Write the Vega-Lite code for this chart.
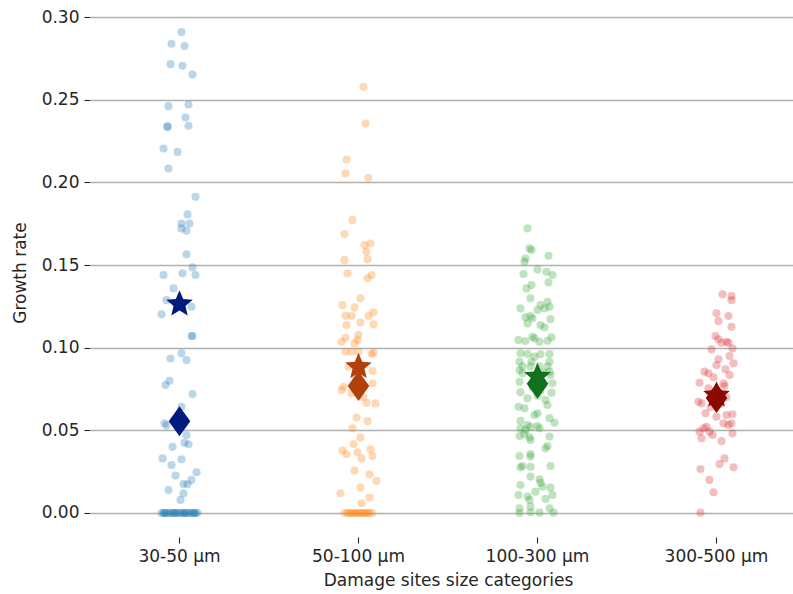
{
"$schema": "https://vega.github.io/schema/vega-lite/v6.json",
"width": 703, "height": 529,
"autosize": {"type": "none"},
"padding": {"left": 90, "top": 8, "right": 0, "bottom": 57},
"background": "white",
"config": {
  "view": {"stroke": null},
  "axis": {"labelFont": "DejaVu Sans", "titleFont": "DejaVu Sans", "labelFontSize": 17, "titleFontSize": 17, "titleFontWeight": "normal", "labelColor": "#262626", "titleColor": "#262626", "tickColor": "#262626", "tickSize": 6, "tickWidth": 1.1, "labelPadding": 5, "domain": false}
},
"datasets": {
"pts": [
{"c":"30-50 μm","v":0.291,"j":2},{"c":"30-50 μm","v":0.284,"j":-8},{"c":"30-50 μm","v":0.2826,"j":5},{"c":"30-50 μm","v":0.2716,"j":-9},{"c":"30-50 μm","v":0.2706,"j":3},{"c":"30-50 μm","v":0.2653,"j":13},{"c":"30-50 μm","v":0.2462,"j":-11},{"c":"30-50 μm","v":0.2472,"j":9},{"c":"30-50 μm","v":0.2393,"j":6},{"c":"30-50 μm","v":0.2341,"j":-12},{"c":"30-50 μm","v":0.2335,"j":-12},{"c":"30-50 μm","v":0.2343,"j":9},{"c":"30-50 μm","v":0.2206,"j":-16},{"c":"30-50 μm","v":0.2185,"j":-2},{"c":"30-50 μm","v":0.2085,"j":-11},{"c":"30-50 μm","v":0.1913,"j":16},{"c":"30-50 μm","v":0.1807,"j":8},{"c":"30-50 μm","v":0.1752,"j":2},{"c":"30-50 μm","v":0.1752,"j":10},{"c":"30-50 μm","v":0.1722,"j":2},{"c":"30-50 μm","v":0.1708,"j":7},{"c":"30-50 μm","v":0.1565,"j":7},{"c":"30-50 μm","v":0.1486,"j":13},{"c":"30-50 μm","v":0.144,"j":-16},{"c":"30-50 μm","v":0.145,"j":3},{"c":"30-50 μm","v":0.144,"j":16},{"c":"30-50 μm","v":0.1359,"j":-6},{"c":"30-50 μm","v":0.1288,"j":-13},{"c":"30-50 μm","v":0.1248,"j":12},{"c":"30-50 μm","v":0.1202,"j":-18},{"c":"30-50 μm","v":0.1071,"j":12},{"c":"30-50 μm","v":0.1071,"j":13},{"c":"30-50 μm","v":0.0966,"j":2},{"c":"30-50 μm","v":0.0935,"j":-9},{"c":"30-50 μm","v":0.0925,"j":7},{"c":"30-50 μm","v":0.08,"j":-10},{"c":"30-50 μm","v":0.0774,"j":-14},{"c":"30-50 μm","v":0.072,"j":13},{"c":"30-50 μm","v":0.0643,"j":2},{"c":"30-50 μm","v":0.0543,"j":-15},{"c":"30-50 μm","v":0.053,"j":-13},{"c":"30-50 μm","v":0.047,"j":7},{"c":"30-50 μm","v":0.0425,"j":5},{"c":"30-50 μm","v":0.0416,"j":9},{"c":"30-50 μm","v":0.04,"j":-7},{"c":"30-50 μm","v":0.033,"j":-17},{"c":"30-50 μm","v":0.0325,"j":2},{"c":"30-50 μm","v":0.029,"j":-8},{"c":"30-50 μm","v":0.0246,"j":17},{"c":"30-50 μm","v":0.0226,"j":-4},{"c":"30-50 μm","v":0.02,"j":12},{"c":"30-50 μm","v":0.0175,"j":4},{"c":"30-50 μm","v":0.0174,"j":8},{"c":"30-50 μm","v":0.0139,"j":-11},{"c":"30-50 μm","v":0.0119,"j":4},{"c":"30-50 μm","v":0.0079,"j":1},
{"c":"30-50 μm","v":0,"j":-18},{"c":"30-50 μm","v":0,"j":-16},{"c":"30-50 μm","v":0,"j":-15},{"c":"30-50 μm","v":0,"j":-14},{"c":"30-50 μm","v":0,"j":-12},{"c":"30-50 μm","v":0,"j":-10},{"c":"30-50 μm","v":0,"j":-8},{"c":"30-50 μm","v":0,"j":-6},{"c":"30-50 μm","v":0,"j":-5},{"c":"30-50 μm","v":0,"j":-4},{"c":"30-50 μm","v":0,"j":-2},{"c":"30-50 μm","v":0,"j":0},{"c":"30-50 μm","v":0,"j":2},{"c":"30-50 μm","v":0,"j":4},{"c":"30-50 μm","v":0,"j":5},{"c":"30-50 μm","v":0,"j":6},{"c":"30-50 μm","v":0,"j":8},{"c":"30-50 μm","v":0,"j":10},{"c":"30-50 μm","v":0,"j":12},{"c":"30-50 μm","v":0,"j":14},{"c":"30-50 μm","v":0,"j":15},{"c":"30-50 μm","v":0,"j":16},{"c":"30-50 μm","v":0,"j":18},
{"c":"50-100 μm","v":0.2579,"j":5},{"c":"50-100 μm","v":0.2357,"j":7},{"c":"50-100 μm","v":0.2139,"j":-12},{"c":"50-100 μm","v":0.2055,"j":-13},{"c":"50-100 μm","v":0.2028,"j":10},{"c":"50-100 μm","v":0.1772,"j":-6},{"c":"50-100 μm","v":0.1688,"j":-14},{"c":"50-100 μm","v":0.1621,"j":6},{"c":"50-100 μm","v":0.1631,"j":12},{"c":"50-100 μm","v":0.158,"j":8},{"c":"50-100 μm","v":0.153,"j":-14},{"c":"50-100 μm","v":0.1535,"j":9},{"c":"50-100 μm","v":0.145,"j":-11},{"c":"50-100 μm","v":0.144,"j":13},{"c":"50-100 μm","v":0.142,"j":9},{"c":"50-100 μm","v":0.1299,"j":2},{"c":"50-100 μm","v":0.1258,"j":-16},{"c":"50-100 μm","v":0.1244,"j":-4},{"c":"50-100 μm","v":0.1214,"j":15},{"c":"50-100 μm","v":0.1193,"j":-13},{"c":"50-100 μm","v":0.1193,"j":-7},{"c":"50-100 μm","v":0.1192,"j":10},{"c":"50-100 μm","v":0.1153,"j":2},{"c":"50-100 μm","v":0.1137,"j":-12},{"c":"50-100 μm","v":0.1141,"j":15},{"c":"50-100 μm","v":0.106,"j":-13},{"c":"50-100 μm","v":0.1077,"j":0},{"c":"50-100 μm","v":0.1036,"j":-17},{"c":"50-100 μm","v":0.1026,"j":-4},{"c":"50-100 μm","v":0.1046,"j":-1},{"c":"50-100 μm","v":0.0976,"j":-13},{"c":"50-100 μm","v":0.0976,"j":-7},{"c":"50-100 μm","v":0.0976,"j":0},{"c":"50-100 μm","v":0.097,"j":15},{"c":"50-100 μm","v":0.0962,"j":13},{"c":"50-100 μm","v":0.0859,"j":14},{"c":"50-100 μm","v":0.0885,"j":-10},{"c":"50-100 μm","v":0.082,"j":-3},{"c":"50-100 μm","v":0.0785,"j":14},{"c":"50-100 μm","v":0.0764,"j":-15},{"c":"50-100 μm","v":0.0744,"j":-17},{"c":"50-100 μm","v":0.0724,"j":-7},{"c":"50-100 μm","v":0.07,"j":5},{"c":"50-100 μm","v":0.0667,"j":8},{"c":"50-100 μm","v":0.0663,"j":17},{"c":"50-100 μm","v":0.0577,"j":-2},{"c":"50-100 μm","v":0.0556,"j":9},{"c":"50-100 μm","v":0.0512,"j":-6},{"c":"50-100 μm","v":0.0456,"j":2},{"c":"50-100 μm","v":0.0417,"j":-5},{"c":"50-100 μm","v":0.0377,"j":-16},{"c":"50-100 μm","v":0.0357,"j":-12},{"c":"50-100 μm","v":0.0367,"j":-1},{"c":"50-100 μm","v":0.0385,"j":12},{"c":"50-100 μm","v":0.033,"j":3},{"c":"50-100 μm","v":0.0345,"j":14},{"c":"50-100 μm","v":0.0256,"j":-4},{"c":"50-100 μm","v":0.0234,"j":11},{"c":"50-100 μm","v":0.0194,"j":18},{"c":"50-100 μm","v":0.0153,"j":2},{"c":"50-100 μm","v":0.0119,"j":-18},{"c":"50-100 μm","v":0.0093,"j":11},{"c":"50-100 μm","v":0.0059,"j":3},
{"c":"50-100 μm","v":0,"j":-14},{"c":"50-100 μm","v":0,"j":-11},{"c":"50-100 μm","v":0,"j":-9},{"c":"50-100 μm","v":0,"j":-7},{"c":"50-100 μm","v":0,"j":-5},{"c":"50-100 μm","v":0,"j":-3},{"c":"50-100 μm","v":0,"j":-1},{"c":"50-100 μm","v":0,"j":1},{"c":"50-100 μm","v":0,"j":3},{"c":"50-100 μm","v":0,"j":5},{"c":"50-100 μm","v":0,"j":7},{"c":"50-100 μm","v":0,"j":9},{"c":"50-100 μm","v":0,"j":11},{"c":"50-100 μm","v":0,"j":14},
{"c":"100-300 μm","v":0.1722,"j":-10},{"c":"100-300 μm","v":0.1601,"j":-8},{"c":"100-300 μm","v":0.1591,"j":-6},{"c":"100-300 μm","v":0.1556,"j":11},{"c":"100-300 μm","v":0.154,"j":-12},{"c":"100-300 μm","v":0.152,"j":-13},{"c":"100-300 μm","v":0.1474,"j":0},{"c":"100-300 μm","v":0.146,"j":9},{"c":"100-300 μm","v":0.144,"j":15},{"c":"100-300 μm","v":0.1446,"j":-14},{"c":"100-300 μm","v":0.1395,"j":11},{"c":"100-300 μm","v":0.1379,"j":-6},{"c":"100-300 μm","v":0.1359,"j":-11},{"c":"100-300 μm","v":0.1299,"j":-7},{"c":"100-300 μm","v":0.1238,"j":-17},{"c":"100-300 μm","v":0.1258,"j":3},{"c":"100-300 μm","v":0.1278,"j":10},{"c":"100-300 μm","v":0.1248,"j":12},{"c":"100-300 μm","v":0.1238,"j":7},{"c":"100-300 μm","v":0.1228,"j":0},{"c":"100-300 μm","v":0.1184,"j":-12},{"c":"100-300 μm","v":0.1192,"j":-7},{"c":"100-300 μm","v":0.1178,"j":-5},{"c":"100-300 μm","v":0.1173,"j":13},{"c":"100-300 μm","v":0.1137,"j":3},{"c":"100-300 μm","v":0.1123,"j":7},{"c":"100-300 μm","v":0.1147,"j":-10},{"c":"100-300 μm","v":0.1046,"j":-19},{"c":"100-300 μm","v":0.104,"j":-12},{"c":"100-300 μm","v":0.1066,"j":-5},{"c":"100-300 μm","v":0.1057,"j":-3},{"c":"100-300 μm","v":0.1063,"j":14},{"c":"100-300 μm","v":0.1042,"j":10},{"c":"100-300 μm","v":0.1036,"j":2},{"c":"100-300 μm","v":0.0966,"j":-17},{"c":"100-300 μm","v":0.0962,"j":-10},{"c":"100-300 μm","v":0.096,"j":3},{"c":"100-300 μm","v":0.0962,"j":12},{"c":"100-300 μm","v":0.0946,"j":-3},{"c":"100-300 μm","v":0.0915,"j":-18},{"c":"100-300 μm","v":0.0915,"j":-6},{"c":"100-300 μm","v":0.0915,"j":12},{"c":"100-300 μm","v":0.0887,"j":-15},{"c":"100-300 μm","v":0.0887,"j":-7},{"c":"100-300 μm","v":0.0887,"j":2},{"c":"100-300 μm","v":0.0887,"j":10},{"c":"100-300 μm","v":0.0865,"j":-18},{"c":"100-300 μm","v":0.0845,"j":-15},{"c":"100-300 μm","v":0.0855,"j":12},{"c":"100-300 μm","v":0.085,"j":6},{"c":"100-300 μm","v":0.0835,"j":13},{"c":"100-300 μm","v":0.082,"j":-3},{"c":"100-300 μm","v":0.0794,"j":-18},{"c":"100-300 μm","v":0.079,"j":4},{"c":"100-300 μm","v":0.0785,"j":15},{"c":"100-300 μm","v":0.076,"j":-5},{"c":"100-300 μm","v":0.074,"j":3},{"c":"100-300 μm","v":0.073,"j":-17},{"c":"100-300 μm","v":0.0728,"j":14},{"c":"100-300 μm","v":0.071,"j":0},{"c":"100-300 μm","v":0.0694,"j":-10},{"c":"100-300 μm","v":0.0683,"j":8},{"c":"100-300 μm","v":0.0653,"j":10},{"c":"100-300 μm","v":0.0643,"j":-19},{"c":"100-300 μm","v":0.0633,"j":-13},{"c":"100-300 μm","v":0.0603,"j":0},{"c":"100-300 μm","v":0.0593,"j":-3},{"c":"100-300 μm","v":0.0573,"j":12},{"c":"100-300 μm","v":0.0546,"j":17},{"c":"100-300 μm","v":0.0558,"j":-17},{"c":"100-300 μm","v":0.0532,"j":-10},{"c":"100-300 μm","v":0.0522,"j":-7},{"c":"100-300 μm","v":0.0526,"j":0},{"c":"100-300 μm","v":0.0512,"j":-17},{"c":"100-300 μm","v":0.0502,"j":-12},{"c":"100-300 μm","v":0.0512,"j":2},{"c":"100-300 μm","v":0.0466,"j":-18},{"c":"100-300 μm","v":0.0478,"j":-13},{"c":"100-300 μm","v":0.0462,"j":12},{"c":"100-300 μm","v":0.0458,"j":-8},{"c":"100-300 μm","v":0.0442,"j":-7},{"c":"100-300 μm","v":0.0405,"j":10},{"c":"100-300 μm","v":0.0391,"j":8},{"c":"100-300 μm","v":0.0345,"j":-18},{"c":"100-300 μm","v":0.0357,"j":-7},{"c":"100-300 μm","v":0.0341,"j":-7},{"c":"100-300 μm","v":0.0284,"j":-15},{"c":"100-300 μm","v":0.0276,"j":-17},{"c":"100-300 μm","v":0.028,"j":-7},{"c":"100-300 μm","v":0.0284,"j":13},{"c":"100-300 μm","v":0.022,"j":-7},{"c":"100-300 μm","v":0.0204,"j":2},{"c":"100-300 μm","v":0.0183,"j":3},{"c":"100-300 μm","v":0.0159,"j":5},{"c":"100-300 μm","v":0.0169,"j":-17},{"c":"100-300 μm","v":0.0153,"j":13},{"c":"100-300 μm","v":0.0129,"j":-2},{"c":"100-300 μm","v":0.0109,"j":-19},{"c":"100-300 μm","v":0.0099,"j":-10},{"c":"100-300 μm","v":0.0079,"j":-8},{"c":"100-300 μm","v":0.0109,"j":15},{"c":"100-300 μm","v":0.0085,"j":8},{"c":"100-300 μm","v":0.0028,"j":-18},{"c":"100-300 μm","v":0,"j":-18},{"c":"100-300 μm","v":0.0038,"j":-7},{"c":"100-300 μm","v":0.0004,"j":-7},{"c":"100-300 μm","v":0.0002,"j":2},{"c":"100-300 μm","v":0.0028,"j":12},{"c":"100-300 μm","v":0.0002,"j":16},
{"c":"300-500 μm","v":0.1323,"j":6},{"c":"300-500 μm","v":0.1313,"j":15},{"c":"300-500 μm","v":0.1288,"j":15},{"c":"300-500 μm","v":0.1208,"j":0},{"c":"300-500 μm","v":0.1192,"j":12},{"c":"300-500 μm","v":0.1161,"j":2},{"c":"300-500 μm","v":0.1127,"j":15},{"c":"300-500 μm","v":0.1071,"j":-1},{"c":"300-500 μm","v":0.1051,"j":2},{"c":"300-500 μm","v":0.1036,"j":10},{"c":"300-500 μm","v":0.103,"j":12},{"c":"300-500 μm","v":0.103,"j":5},{"c":"300-500 μm","v":0.0996,"j":16},{"c":"300-500 μm","v":0.099,"j":-5},{"c":"300-500 μm","v":0.095,"j":13},{"c":"300-500 μm","v":0.093,"j":2},{"c":"300-500 μm","v":0.0895,"j":0},{"c":"300-500 μm","v":0.0905,"j":17},{"c":"300-500 μm","v":0.0855,"j":-12},{"c":"300-500 μm","v":0.0845,"j":-8},{"c":"300-500 μm","v":0.0869,"j":9},{"c":"300-500 μm","v":0.0835,"j":13},{"c":"300-500 μm","v":0.0821,"j":-3},{"c":"300-500 μm","v":0.0788,"j":-17},{"c":"300-500 μm","v":0.0784,"j":7},{"c":"300-500 μm","v":0.0768,"j":8},{"c":"300-500 μm","v":0.0754,"j":-8},{"c":"300-500 μm","v":0.072,"j":-3},{"c":"300-500 μm","v":0.07,"j":10},{"c":"300-500 μm","v":0.066,"j":4},{"c":"300-500 μm","v":0.064,"j":-6},{"c":"300-500 μm","v":0.0673,"j":-18},{"c":"300-500 μm","v":0.0663,"j":-15},{"c":"300-500 μm","v":0.0603,"j":-11},{"c":"300-500 μm","v":0.0593,"j":10},{"c":"300-500 μm","v":0.0597,"j":16},{"c":"300-500 μm","v":0.0582,"j":0},{"c":"300-500 μm","v":0.0543,"j":7},{"c":"300-500 μm","v":0.0532,"j":12},{"c":"300-500 μm","v":0.0543,"j":15},{"c":"300-500 μm","v":0.0522,"j":-10},{"c":"300-500 μm","v":0.0512,"j":-13},{"c":"300-500 μm","v":0.0492,"j":-17},{"c":"300-500 μm","v":0.0492,"j":-7},{"c":"300-500 μm","v":0.0472,"j":-4},{"c":"300-500 μm","v":0.0482,"j":16},{"c":"300-500 μm","v":0.0452,"j":-15},{"c":"300-500 μm","v":0.0435,"j":5},{"c":"300-500 μm","v":0.033,"j":8},{"c":"300-500 μm","v":0.0296,"j":3},{"c":"300-500 μm","v":0.0276,"j":17},{"c":"300-500 μm","v":0.0266,"j":-16},{"c":"300-500 μm","v":0.02,"j":-7},{"c":"300-500 μm","v":0.0125,"j":-3},{"c":"300-500 μm","v":0.0002,"j":-16}
],
"stats": [
{"c":"30-50 μm","s":"median","v":0.0555},{"c":"30-50 μm","s":"mean","v":0.1264},
{"c":"50-100 μm","s":"median","v":0.0768},{"c":"50-100 μm","s":"mean","v":0.0885},
{"c":"100-300 μm","s":"median","v":0.0782},{"c":"100-300 μm","s":"mean","v":0.0825},
{"c":"300-500 μm","s":"median","v":0.0695},{"c":"300-500 μm","s":"mean","v":0.0712}
]
},
"encoding": {
  "x": {"field": "c", "type": "nominal", "sort": ["30-50 μm","50-100 μm","100-300 μm","300-500 μm"],
        "scale": {"range": [0, 716], "paddingInner": 0, "paddingOuter": 0},
        "title": "Damage sites size categories",
        "axis": {"labelAngle": 0, "titlePadding": 8, "grid": false}},
  "y": {"field": "v", "type": "quantitative",
        "scale": {"domain": [-0.01455, 0.3056], "nice": false, "zero": false},
        "title": "Growth rate",
        "axis": {"values": [0, 0.05, 0.1, 0.15, 0.2, 0.25, 0.3], "format": ".2f", "grid": true, "gridColor": "#b0b0b0", "gridWidth": 1.3, "titlePadding": 12}}
},
"layer": [
  {"data": {"name": "pts"},
   "mark": {"type": "circle", "size": 66, "opacity": 0.3},
   "encoding": {
     "xOffset": {"field": "j", "type": "quantitative", "scale": {"domain": [-89.5, 89.5], "range": [0, 179]}},
     "color": {"field": "c", "type": "nominal", "scale": {"domain": ["30-50 μm","50-100 μm","100-300 μm","300-500 μm"], "range": ["#1f77b4","#ff7f0e","#2ca02c","#d62728"]}, "legend": null}
   }},
  {"data": {"name": "stats"},
   "transform": [{"filter": "datum.s === 'median'"}],
   "mark": {"type": "point", "shape": "M0,-1L0.72,0L0,1L-0.72,0Z", "filled": true, "opacity": 1, "size": 900, "strokeWidth": 0},
   "encoding": {
     "color": {"field": "c", "type": "nominal", "scale": {"domain": ["30-50 μm","50-100 μm","100-300 μm","300-500 μm"], "range": ["#001c7f","#b1400d","#12711c","#8c0800"]}, "legend": null}
   }},
  {"data": {"name": "stats"},
   "transform": [{"filter": "datum.s === 'mean'"}],
   "mark": {"type": "point", "shape": "M0,-1L0.265,-0.364L0.951,-0.309L0.428,0.139L0.588,0.809L0,0.45L-0.588,0.809L-0.428,0.139L-0.951,-0.309L-0.265,-0.364Z", "filled": true, "opacity": 1, "size": 780, "strokeWidth": 0},
   "encoding": {
     "color": {"field": "c", "type": "nominal", "scale": {"domain": ["30-50 μm","50-100 μm","100-300 μm","300-500 μm"], "range": ["#001c7f","#b1400d","#12711c","#8c0800"]}, "legend": null}
   }}
],
"resolve": {"scale": {"color": "independent"}}
}
